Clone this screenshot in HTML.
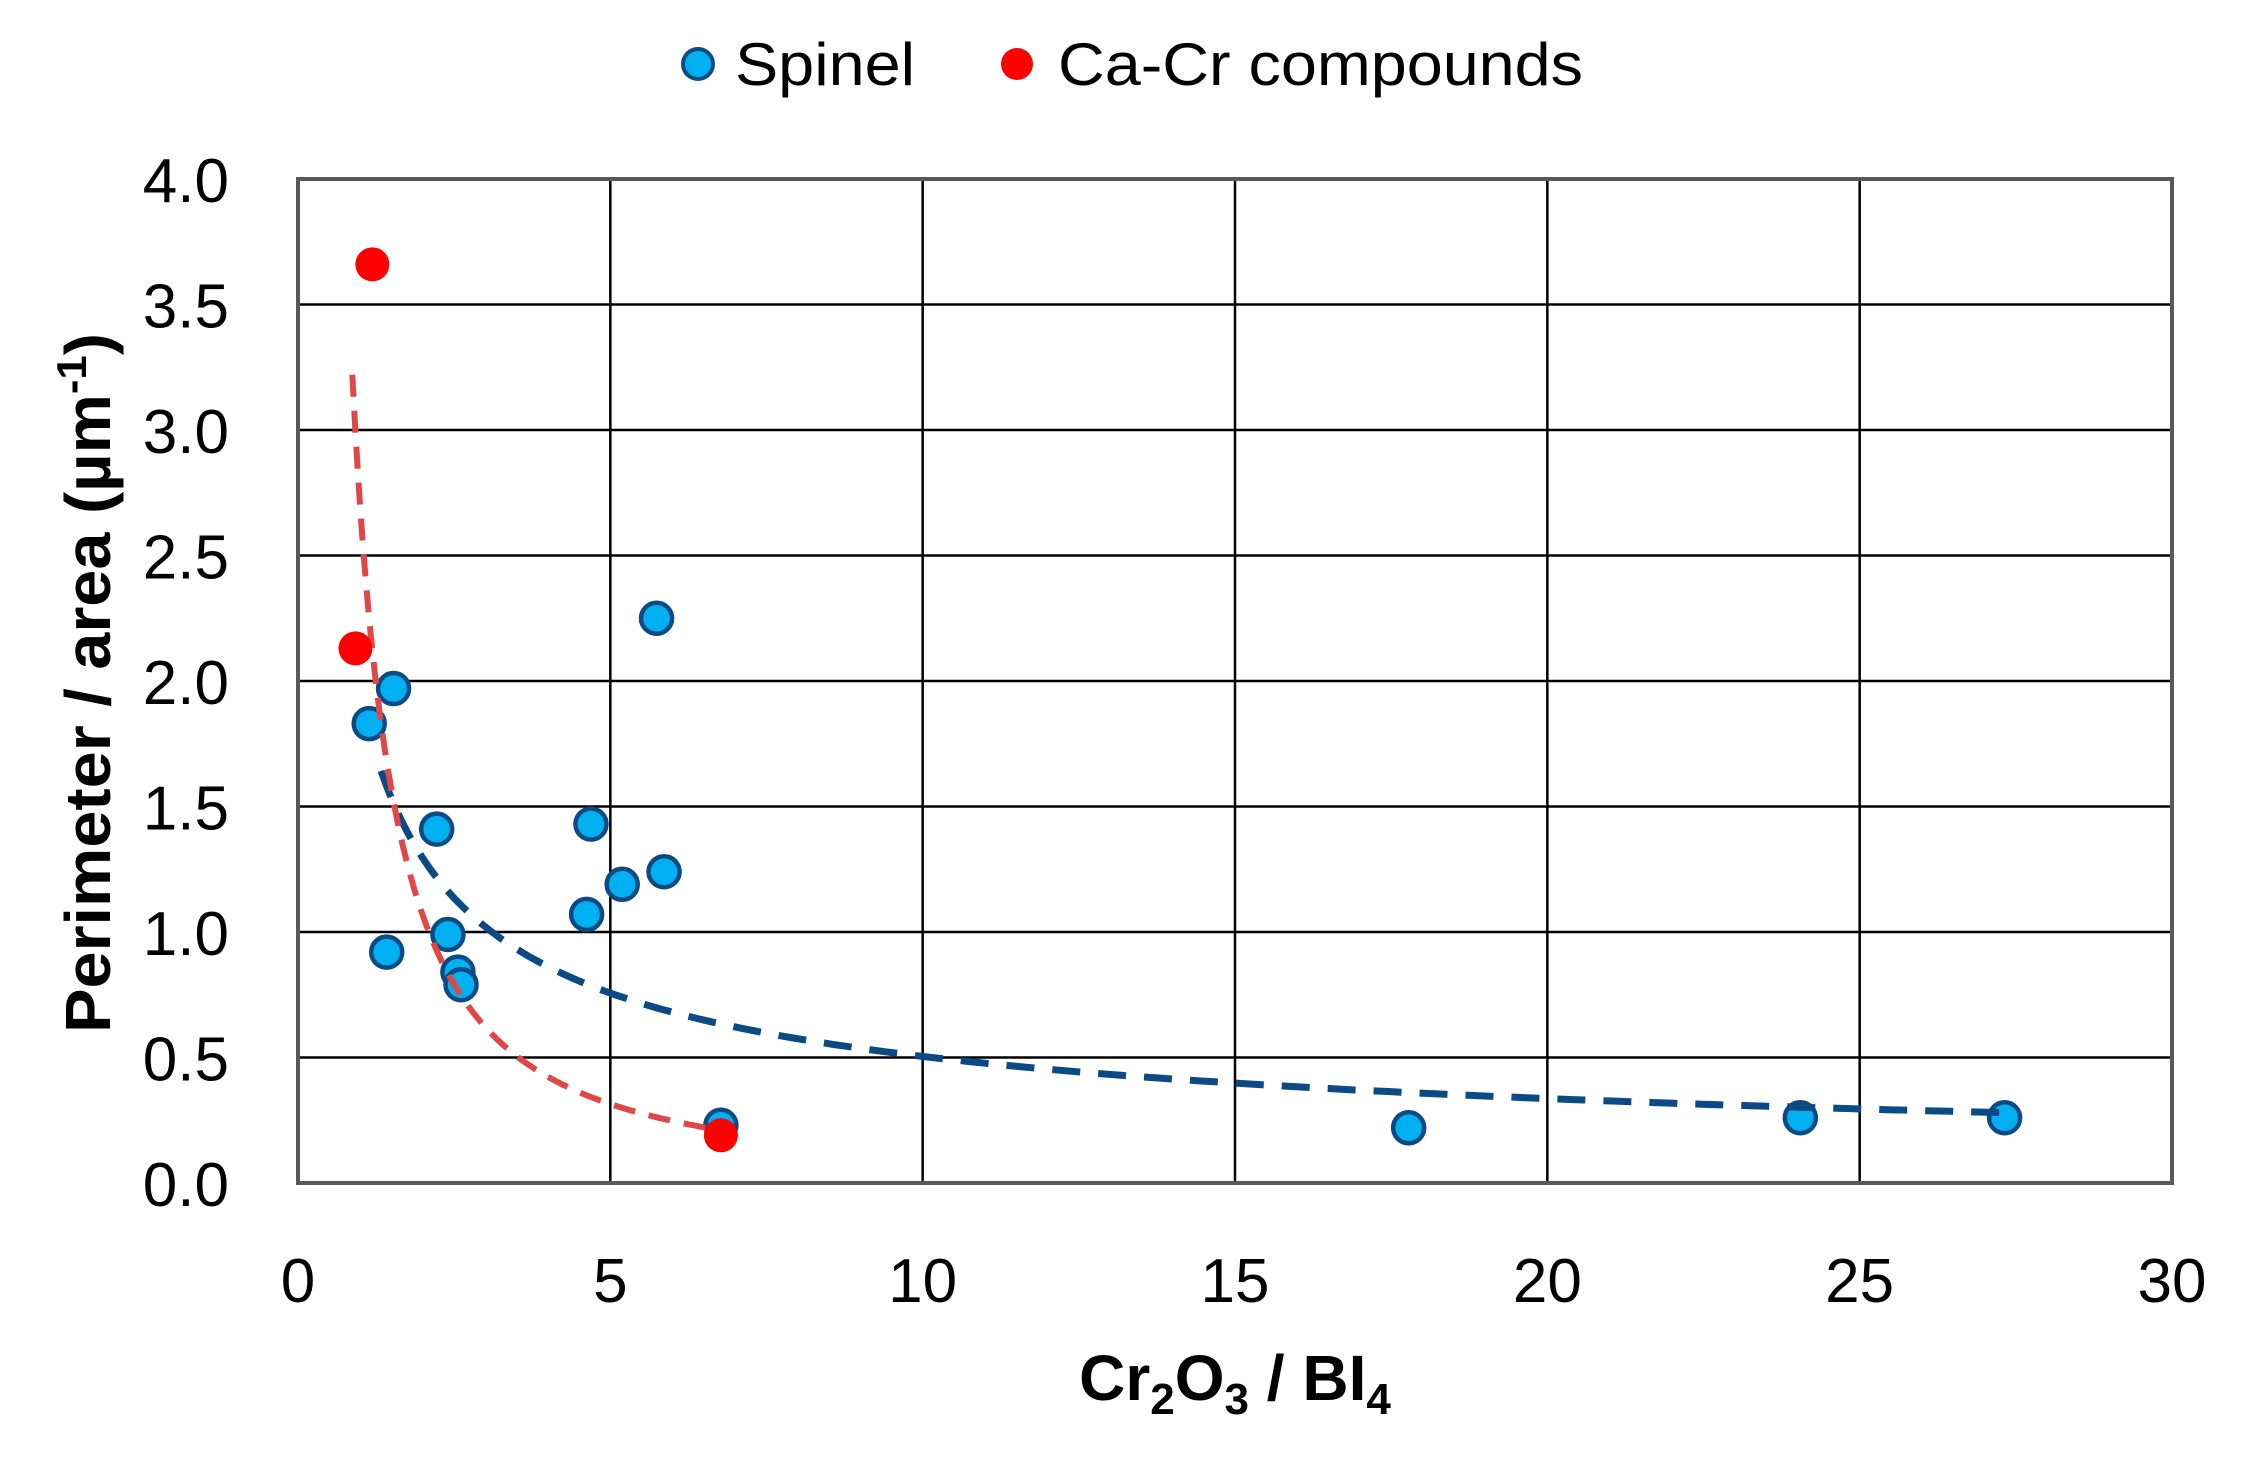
<!DOCTYPE html>
<html><head><meta charset="utf-8"><style>html,body{margin:0;padding:0;background:#fff}svg{display:block}</style></head>
<body>
<svg id="s" width="2243" height="1471" xmlns="http://www.w3.org/2000/svg" font-family="Liberation Sans, sans-serif">
<rect width="2243" height="1471" fill="#fff"/>
<g id="grid"></g>
<rect x="298" y="179" width="1874" height="1004" fill="none" stroke="#595959" stroke-width="4"/>
<g id="ticks" font-size="62" fill="#000"></g>
<g id="bm"></g>
<path id="bl" fill="none" stroke="#0b4a84" stroke-width="7" stroke-dasharray="28,18"/>
<path id="rl" fill="none" stroke="#e04848" stroke-width="6" stroke-dasharray="22,14"/>
<g id="rm"></g>
<text x="1235" y="1400" font-size="64" font-weight="bold" text-anchor="middle">Cr<tspan font-size="44" dy="14">2</tspan><tspan dy="-14">O</tspan><tspan font-size="44" dy="14">3</tspan><tspan dy="-14"> / BI</tspan><tspan font-size="44" dy="14">4</tspan></text>
<text transform="translate(110,683) rotate(-90)" font-size="64" font-weight="bold" text-anchor="middle" textLength="700" lengthAdjust="spacingAndGlyphs">Perimeter / area (µm<tspan font-size="42" dy="-24">-1</tspan><tspan dy="24">)</tspan></text>
<circle cx="698" cy="64" r="15" fill="#00b0f0" stroke="#0b4a84" stroke-width="4"/>
<text x="735" y="85" font-size="60" textLength="180" lengthAdjust="spacingAndGlyphs">Spinel</text>
<circle cx="1017" cy="64" r="16" fill="#ff0000"/>
<text x="1058" y="85" font-size="60" textLength="525" lengthAdjust="spacingAndGlyphs">Ca-Cr compounds</text>
</svg>
<script>
const X=v=>298+v*1874/30, Y=v=>1183-v*1004/4, NS="http://www.w3.org/2000/svg";
function el(p,t,a,txt){const e=document.createElementNS(NS,t);for(const k in a)e.setAttribute(k,a[k]);if(txt)e.textContent=txt;document.getElementById(p).appendChild(e);return e;}
for(let i=1;i<6;i++)el('grid','line',{x1:X(i*5),x2:X(i*5),y1:179,y2:1183,stroke:'#000','stroke-width':2.5});
for(let i=1;i<8;i++)el('grid','line',{x1:298,x2:2172,y1:Y(i*0.5),y2:Y(i*0.5),stroke:'#000','stroke-width':2.5});
for(let i=0;i<=6;i++)el('ticks','text',{x:X(i*5),y:1302,'text-anchor':'middle'},String(i*5));
for(let i=0;i<=8;i++)el('ticks','text',{x:229,y:Y(i*0.5)+23,'text-anchor':'end'},(i*0.5).toFixed(1));
const sp=[[1.14,1.83],[1.53,1.97],[1.42,0.92],[2.22,1.41],[2.40,0.99],[2.56,0.84],[2.61,0.79],[4.62,1.07],[4.69,1.43],[5.19,1.19],[5.74,2.25],[5.86,1.24],[6.77,0.23],[17.78,0.22],[24.05,0.26],[27.32,0.26]];
sp.forEach(p=>el('bm','circle',{cx:X(p[0]),cy:Y(p[1]),r:15.5,fill:'#00b0f0',stroke:'#0b4a84','stroke-width':4.5}));
[[1.19,3.66],[0.92,2.13],[6.77,0.19]].forEach(p=>el('rm','circle',{cx:X(p[0]),cy:Y(p[1]),r:17,fill:'#ff0000'}));
let d='';for(let i=0;i<=200;i++){const x=1.33+(27.28-1.33)*Math.pow(i/200,1.6);d+=(i?'L':'M')+X(x).toFixed(1)+','+Y(1.94*Math.pow(x,-0.585)).toFixed(1);}
document.getElementById('bl').setAttribute('d',d);
d='';for(let i=0;i<=200;i++){const x=0.87+(6.77-0.87)*Math.pow(i/200,1.5);d+=(i?'L':'M')+X(x).toFixed(1)+','+Y(3.22*Math.pow(x/0.87,-1.33)).toFixed(1);}
document.getElementById('rl').setAttribute('d',d);
</script>
</body></html>
